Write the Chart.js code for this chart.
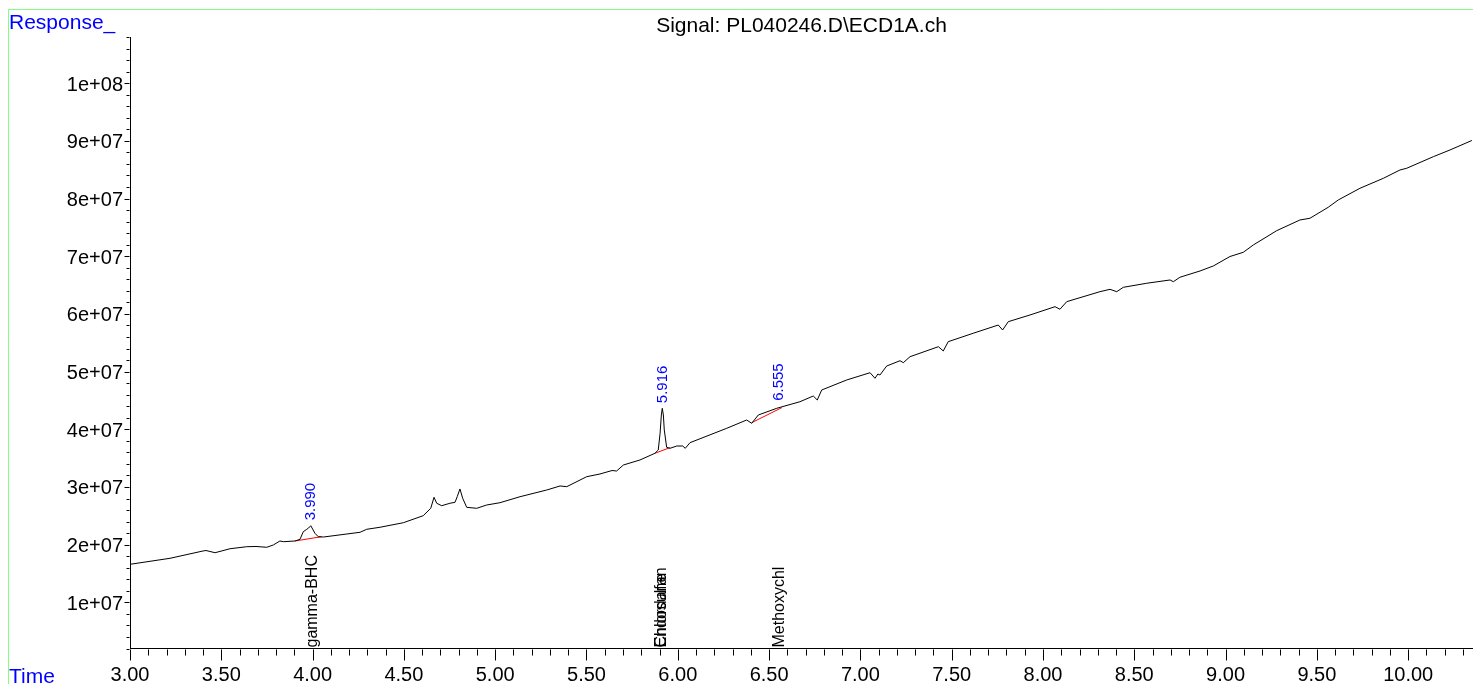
<!DOCTYPE html>
<html>
<head>
<meta charset="utf-8">
<script src="https://cdn.jsdelivr.net/npm/chart.js@4"></script>
<style>
html,body{margin:0;padding:0;background:#fff;}
canvas{display:block;}
</style>
</head>
<body>
<canvas id="c" width="1473" height="684" style="width:1473px;height:684px"></canvas>
<script>
// Retention time (min)
const times = [3.000, 3.219, 3.400, 3.416, 3.466, 3.548, 3.639, 3.690, 3.749, 3.785,
  3.821, 3.840, 3.904, 3.931, 3.949, 3.968, 3.978, 3.990, 4.013, 4.031,
  4.059, 4.260, 4.296, 4.369, 4.497, 4.606, 4.647, 4.665, 4.680, 4.707,
  4.752, 4.780, 4.792, 4.807, 4.822, 4.844, 4.899, 4.953, 5.026, 5.136,
  5.282, 5.355, 5.392, 5.501, 5.574, 5.640, 5.665, 5.702, 5.793, 5.875,
  5.893, 5.903, 5.910, 5.915, 5.921, 5.926, 5.939, 5.957, 5.994, 6.027,
  6.041, 6.067, 6.268, 6.377, 6.405, 6.441, 6.542, 6.669, 6.742, 6.764,
  6.788, 6.925, 7.053, 7.080, 7.096, 7.107, 7.144, 7.217, 7.235, 7.272,
  7.427, 7.454, 7.481, 7.618, 7.755, 7.779, 7.810, 7.929, 8.066, 8.093,
  8.130, 8.312, 8.367, 8.404, 8.440, 8.568, 8.696, 8.714, 8.750, 8.860,
  8.933, 9.024, 9.097, 9.152, 9.280, 9.407, 9.462, 9.562, 9.617, 9.736,
  9.864, 9.955, 9.992, 10.138, 10.229, 10.349];
// ECD response
const response = [1.689e7, 1.793e7, 1.920e7, 1.928e7, 1.890e7, 1.959e7, 1.994e7, 1.998e7, 1.984e7, 2.024e7,
  2.093e7, 2.081e7, 2.093e7, 2.122e7, 2.254e7, 2.296e7, 2.318e7, 2.358e7, 2.226e7, 2.168e7,
  2.162e7, 2.244e7, 2.296e7, 2.331e7, 2.410e7, 2.532e7, 2.660e7, 2.851e7, 2.747e7, 2.705e7,
  2.747e7, 2.764e7, 2.861e7, 2.995e7, 2.833e7, 2.677e7, 2.660e7, 2.717e7, 2.757e7, 2.861e7,
  2.977e7, 3.047e7, 3.035e7, 3.208e7, 3.255e7, 3.315e7, 3.307e7, 3.411e7, 3.498e7, 3.614e7,
  3.671e7, 3.961e7, 4.278e7, 4.394e7, 4.278e7, 4.018e7, 3.718e7, 3.700e7, 3.740e7, 3.740e7,
  3.700e7, 3.798e7, 4.047e7, 4.191e7, 4.134e7, 4.278e7, 4.394e7, 4.508e7, 4.607e7, 4.538e7,
  4.711e7, 4.885e7, 5.011e7, 4.914e7, 4.989e7, 4.971e7, 5.127e7, 5.219e7, 5.185e7, 5.289e7,
  5.462e7, 5.388e7, 5.549e7, 5.695e7, 5.838e7, 5.752e7, 5.896e7, 6.012e7, 6.156e7, 6.111e7,
  6.243e7, 6.416e7, 6.457e7, 6.416e7, 6.492e7, 6.562e7, 6.619e7, 6.589e7, 6.666e7, 6.775e7,
  6.862e7, 7.026e7, 7.099e7, 7.226e7, 7.474e7, 7.659e7, 7.689e7, 7.879e7, 8.006e7, 8.209e7,
  8.382e7, 8.526e7, 8.556e7, 8.757e7, 8.873e7, 9.038e7];

// Integration baselines (red)
const baseStartTime = [3.904, 5.875, 6.405];
const baseStartResp = [2.093e7, 3.614e7, 4.145e7];
const baseEndTime = [4.050, 5.957, 6.569];
const baseEndResp = [2.168e7, 3.711e7, 4.404e7];

// Peak retention-time labels
const peakTimes = [3.990, 5.916, 6.555];
const peakTops = [2.364e7, 4.396e7, 4.436e7];
const peakLabels = ['3.990', '5.916', '6.555'];

// Compound names
const compoundNames = ['gamma-BHC', 'Endosulfan', 'Chlordane', 'Methoxychl'];
const compoundTimes = [4.00, 5.91, 5.91, 6.555];

const titleText = 'Signal: PL040246.D\\ECD1A.ch';
const yAxisText = 'Response_';
const xAxisText = 'Time';

const FONT = "'Liberation Sans', Arial, sans-serif";

const traceData = times.map((t, i) => ({x: t, y: response[i]}));
const baseSets = baseStartTime.map((t, i) => ({
  data: [{x: t, y: baseStartResp[i]}, {x: baseEndTime[i], y: baseEndResp[i]}],
  borderColor: '#ff0000', borderWidth: 1, pointRadius: 0, tension: 0, fill: false
}));

function isMajorX(v) { return Math.round(v * 10) % 5 === 0; }
function isMajorY(v) { return Math.round(v / 1e6) % 10 === 0; }
function fmtY(v) {
  const e = Math.floor(Math.log10(v) + 1e-9);
  const m = Math.round(v / Math.pow(10, e));
  return m + 'e+' + String(e).padStart(2, '0');
}

const decor = {
  id: 'decor',
  afterDraw(chart) {
    const ctx = chart.ctx;
    const xs = chart.scales.x, ys = chart.scales.y;
    const area = chart.chartArea;
    ctx.save();
    // green frame
    ctx.strokeStyle = '#80ff80';
    ctx.lineWidth = 1;
    ctx.beginPath();
    ctx.moveTo(8.5, 684); ctx.lineTo(8.5, 9.5); ctx.lineTo(1473, 9.5);
    ctx.stroke();
    // tick marks
    ctx.strokeStyle = '#000';
    ctx.beginPath();
    const yb = Math.round(area.bottom) + 0.5;
    xs.ticks.forEach(t => {
      const px = Math.round(xs.getPixelForValue(t.value)) + 0.5;
      const len = isMajorX(t.value) ? 11 : 6;
      ctx.moveTo(px, yb); ctx.lineTo(px, yb + len);
    });
    const xl = Math.round(area.left) - 0.5;
    ys.ticks.forEach(t => {
      const py = Math.round(ys.getPixelForValue(t.value)) + 0.5;
      const len = isMajorY(t.value) ? 5 : 3;
      ctx.moveTo(xl, py); ctx.lineTo(xl - len, py);
    });
    ctx.stroke();
    // title and axis names
    ctx.fillStyle = '#000';
    ctx.font = '21px ' + FONT;
    ctx.textAlign = 'center';
    ctx.textBaseline = 'alphabetic';
    ctx.fillText(titleText, (area.left + area.right) / 2, 32);
    ctx.fillStyle = '#0000ff';
    ctx.textAlign = 'left';
    ctx.fillText(yAxisText, 9, 29);
    ctx.fillText(xAxisText, 9, 683);
    // peak labels
    ctx.font = '15px ' + FONT;
    ctx.textBaseline = 'middle';
    peakTimes.forEach((t, i) => {
      const px = xs.getPixelForValue(t);
      const py = ys.getPixelForValue(peakTops[i]) - 5;
      ctx.save();
      ctx.translate(px, py);
      ctx.rotate(-Math.PI / 2);
      ctx.fillStyle = '#0000ff';
      ctx.fillText(peakLabels[i], 0, 0);
      ctx.restore();
    });
    // compound labels
    ctx.font = '16px ' + FONT;
    compoundNames.forEach((n, i) => {
      const px = xs.getPixelForValue(compoundTimes[i]);
      const py = area.bottom - 1;
      ctx.save();
      ctx.translate(px, py);
      ctx.rotate(-Math.PI / 2);
      ctx.fillStyle = '#000';
      ctx.fillText(n, 0, 0);
      ctx.restore();
    });
    ctx.restore();
  }
};

new Chart(document.getElementById('c'), {
  type: 'line',
  data: {
    datasets: [{
      data: traceData, borderColor: '#000', borderWidth: 1, pointRadius: 0, tension: 0, fill: false
    }].concat(baseSets)
  },
  options: {
    responsive: false,
    animation: false,
    events: [],
    parsing: true,
    layout: {padding: {top: 37, left: 0, right: 0, bottom: 0}},
    plugins: {legend: {display: false}, tooltip: {enabled: false}, title: {display: false}},
    scales: {
      x: {
        type: 'linear', min: 3, max: 10.355,
        afterFit(s) { s.height = 35.5; },
        grid: {display: true, drawOnChartArea: false, drawTicks: true, tickLength: 6, color: 'rgba(0,0,0,0)'},
        border: {display: true, color: '#000', width: 1},
        ticks: {
          stepSize: 0.1, includeBounds: false, autoSkip: false, maxRotation: 0, minRotation: 0,
          padding: 9, color: '#000', font: {family: FONT, size: 20},
          callback: v => isMajorX(v) ? Number(v).toFixed(2) : ''
        }
      },
      y: {
        type: 'linear', min: 2.29e6, max: 1.0832e8,
        afterFit(s) { s.width = 130; },
        grid: {display: true, drawOnChartArea: false, drawTicks: true, tickLength: 3, color: 'rgba(0,0,0,0)'},
        border: {display: true, color: '#000', width: 1},
        ticks: {
          stepSize: 2e6, includeBounds: false, autoSkip: false, labelOffset: 2,
          padding: 4, color: '#000', font: {family: FONT, size: 20},
          callback: v => isMajorY(v) ? fmtY(v) : ''
        }
      }
    }
  },
  plugins: [decor]
});
</script>
</body>
</html>
